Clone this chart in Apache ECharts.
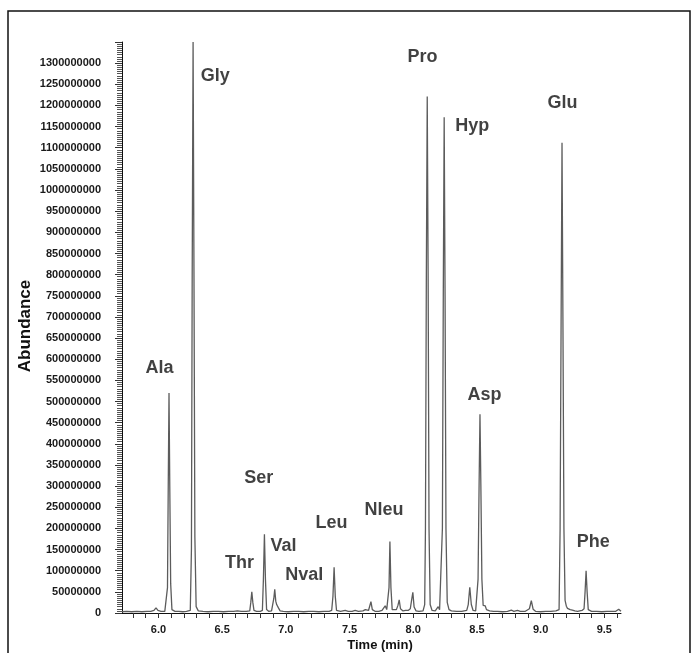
<!DOCTYPE html>
<html>
<head>
<meta charset="utf-8">
<script src="https://cdn.jsdelivr.net/npm/echarts@6/dist/echarts.min.js"></script>
<style>
  html, body { margin: 0; padding: 0; background: #fff; }
  #chart { width: 697px; height: 653px; }
</style>
</head>
<body>
<div id="chart"></div>
<script>
// Total ion chromatogram of derivatised amino acids (time in minutes, abundance in counts)
const retentionTimes = [
  5.714, 5.75, 5.79, 5.83, 5.87, 5.91, 5.94, 5.965, 5.981, 5.996, 6.02, 6.05,
  6.063, 6.071, 6.077, 6.083, 6.089, 6.096, 6.106, 6.13, 6.16, 6.19, 6.22,
  6.250, 6.259, 6.265, 6.272, 6.279, 6.286, 6.296, 6.313, 6.35, 6.39, 6.43, 6.47, 6.51, 6.55, 6.59,
  6.62, 6.635, 6.65, 6.69,
  6.717, 6.725, 6.733, 6.741, 6.750, 6.77, 6.80,
  6.816, 6.824, 6.832, 6.840, 6.849, 6.865,
  6.888, 6.900, 6.906, 6.913, 6.921, 6.928, 6.935, 6.942, 6.955,
  6.98, 7.02, 7.06, 7.10, 7.14, 7.18, 7.22, 7.26, 7.30, 7.34,
  7.36, 7.370, 7.379, 7.388, 7.398, 7.43, 7.466, 7.49, 7.52, 7.544, 7.57,
  7.605, 7.624, 7.636, 7.649, 7.658, 7.668, 7.679, 7.70, 7.73, 7.755, 7.768, 7.780, 7.792,
  7.803, 7.810, 7.817, 7.825, 7.835, 7.85, 7.868, 7.880, 7.890, 7.900, 7.92,
  7.940, 7.950, 7.960, 7.977, 7.987, 7.997, 8.007, 8.022, 8.045, 8.060, 8.077,
  8.090, 8.096, 8.103, 8.110, 8.117, 8.124, 8.133, 8.148, 8.173, 8.185, 8.196, 8.207,
  8.222, 8.229, 8.236, 8.243, 8.250, 8.257, 8.267, 8.281, 8.30, 8.34, 8.38,
  8.420, 8.432, 8.444, 8.456, 8.470, 8.490,
  8.501, 8.509, 8.517, 8.524, 8.531, 8.539, 8.549, 8.558, 8.565, 8.575, 8.60,
  8.630, 8.644, 8.66, 8.70, 8.74, 8.770, 8.79, 8.819, 8.84, 8.88,
  8.912, 8.927, 8.941, 8.96, 9.00, 9.04, 9.08, 9.12,
  9.145, 9.153, 9.161, 9.168, 9.175, 9.183, 9.192, 9.202, 9.211, 9.220, 9.232, 9.249, 9.259, 9.269,
  9.29, 9.325, 9.341, 9.349, 9.357, 9.365, 9.374, 9.40, 9.44, 9.48, 9.52, 9.56, 9.59,
  9.605, 9.613, 9.622, 9.631
];
const abundances = [
  3e6, 4e6, 3e6, 4e6, 3e6, 4e6, 4e6, 6e6, 12e6, 6e6, 4e6, 4e6,
  5e6, 60e6, 300e6, 520e6, 300e6, 70e6, 8e6, 4e6, 4e6, 3e6, 4e6,
  6e6, 150e6, 800e6, 1350e6, 800e6, 180e6, 15e6, 5e6, 4e6, 3e6, 4e6, 4e6, 3e6, 4e6, 4e6,
  5e6, 7e6, 4e6, 4e6,
  5e6, 25e6, 50e6, 25e6, 6e6, 4e6, 4e6,
  6e6, 80e6, 186e6, 80e6, 8e6, 4e6,
  5e6, 8e6, 35e6, 56e6, 28e6, 20e6, 23e6, 12e6, 5e6,
  4e6, 3e6, 4e6, 4e6, 3e6, 4e6, 4e6, 3e6, 4e6, 4e6,
  6e6, 40e6, 108e6, 40e6, 6e6, 4e6, 6e6, 4e6, 4e6, 6e6, 4e6,
  5e6, 8e6, 12e6, 6e6, 10e6, 27e6, 8e6, 4e6, 4e6, 6e6, 10e6, 17e6, 8e6,
  12e6, 60e6, 169e6, 60e6, 8e6, 5e6, 8e6, 18e6, 31e6, 10e6, 5e6,
  6e6, 9e6, 6e6, 10e6, 30e6, 49e6, 14e6, 5e6, 4e6, 6e6, 5e6,
  20e6, 200e6, 800e6, 1221e6, 800e6, 200e6, 20e6, 6e6, 5e6, 9e6, 15e6, 8e6,
  10e6, 200e6, 750e6, 1172e6, 750e6, 200e6, 25e6, 8e6, 5e6, 4e6, 4e6,
  6e6, 20e6, 61e6, 20e6, 6e6, 5e6,
  8e6, 80e6, 300e6, 470e6, 300e6, 80e6, 18e6, 14e6, 17e6, 8e6, 5e6,
  4e6, 6e6, 4e6, 3e6, 4e6, 7e6, 4e6, 6e6, 4e6, 4e6,
  10e6, 29e6, 9e6, 4e6, 3e6, 4e6, 4e6, 5e6,
  8e6, 200e6, 700e6, 1112e6, 700e6, 200e6, 30e6, 16e6, 11e6, 15e6, 8e6, 7e6, 10e6, 5e6,
  4e6, 6e6, 10e6, 50e6, 100e6, 50e6, 8e6, 4e6, 4e6, 3e6, 4e6, 4e6, 4e6,
  7e6, 9e6, 5e6, 4e6
];

// Peak annotations: compound name and where its label sits (time, abundance)
const peakNames   = ['Ala', 'Gly', 'Thr', 'Ser', 'Val', 'Nval', 'Leu', 'Nleu', 'Pro', 'Hyp', 'Asp', 'Glu', 'Phe'];
const labelTimes  = [6.009, 6.446, 6.637, 6.788, 6.981, 7.145, 7.358, 7.770, 8.073, 8.463, 8.559, 9.172, 9.414];
const labelLevels = [580e6, 1270e6, 118e6, 320e6, 158e6, 89e6, 213e6, 244e6, 1315e6, 1151e6, 515e6, 1206e6, 167e6];

// Axis ticks and labels
const timeTicks  = [5.8, 5.9, 6.0, 6.1, 6.2, 6.3, 6.4, 6.5, 6.6, 6.7, 6.8, 6.9, 7.0, 7.1, 7.2, 7.3, 7.4,
                    7.5, 7.6, 7.7, 7.8, 7.9, 8.0, 8.1, 8.2, 8.3, 8.4, 8.5, 8.6, 8.7, 8.8, 8.9, 9.0,
                    9.1, 9.2, 9.3, 9.4, 9.5, 9.6];
const timeLabels = [6.0, 6.5, 7.0, 7.5, 8.0, 8.5, 9.0, 9.5];
const abundanceStep = 50e6;
const abundanceMax = 1350e6;

const FONT = '"Liberation Sans", Arial, sans-serif';

const chart = echarts.init(document.getElementById('chart'), null, { renderer: 'canvas' });

chart.setOption({
  animation: false,
  backgroundColor: '#ffffff',
  grid: {
    left: 122, right: 76, top: 42, bottom: 40,
    outerBoundsMode: 'none'
  },
  xAxis: {
    type: 'value',
    min: 5.714,
    max: 9.631,
    axisLine: { show: true, onZero: false, lineStyle: { color: '#111', width: 1 } },
    axisTick: {
      show: true, length: 5, inside: false,
      customValues: timeTicks,
      lineStyle: { color: '#333', width: 1 }
    },
    axisLabel: {
      show: true,
      customValues: timeLabels,
      formatter: v => v.toFixed(1),
      margin: 11,
      color: '#1a1a1a',
      fontFamily: FONT,
      fontWeight: 'bold',
      fontSize: 11
    },
    splitLine: { show: false }
  },
  yAxis: {
    type: 'value',
    min: 0,
    max: abundanceMax,
    interval: abundanceStep,
    axisLine: { show: true, lineStyle: { color: '#111', width: 1 } },
    axisTick: { show: true, length: 7, inside: false, lineStyle: { color: '#333', width: 1 } },
    minorTick: { show: true, splitNumber: 10, length: 5, lineStyle: { color: '#555', width: 1 } },
    axisLabel: {
      show: true,
      showMaxLabel: false,
      formatter: v => String(Math.round(v)),
      margin: 21,
      color: '#1a1a1a',
      fontFamily: FONT,
      fontWeight: 'bold',
      fontSize: 11
    },
    splitLine: { show: false },
    minorSplitLine: { show: false }
  },
  series: [
    {
      type: 'line',
      data: retentionTimes.map((t, i) => [t, abundances[i]]),
      showSymbol: false,
      symbol: 'none',
      clip: true,
      lineStyle: { color: '#5c5c5c', width: 1.3 },
      z: 2
    },
    {
      type: 'scatter',
      symbolSize: 0,
      data: labelTimes.map((t, i) => ({ name: peakNames[i], value: [t, labelLevels[i]] })),
      label: {
        show: true,
        position: 'inside',
        formatter: '{b}',
        color: '#111',
        fontFamily: FONT,
        fontWeight: 'bold',
        fontSize: 18
      },
      silent: true,
      z: 3
    }
  ],
  graphic: [
    {
      type: 'rect',
      shape: { x: 8, y: 11, width: 682, height: 660 },
      style: { fill: 'none', stroke: '#111', lineWidth: 1.5 },
      silent: true
    },
    {
      type: 'text',
      x: 25, y: 326,
      rotation: Math.PI / 2,
      style: {
        text: 'Abundance',
        fill: '#111',
        font: 'bold 17px ' + FONT,
        textAlign: 'center',
        textVerticalAlign: 'middle'
      }
    },
    {
      type: 'text',
      x: 380, y: 645,
      style: {
        text: 'Time (min)',
        fill: '#111',
        font: 'bold 13px ' + FONT,
        textAlign: 'center',
        textVerticalAlign: 'middle'
      }
    }
  ]
});
</script>
</body>
</html>
